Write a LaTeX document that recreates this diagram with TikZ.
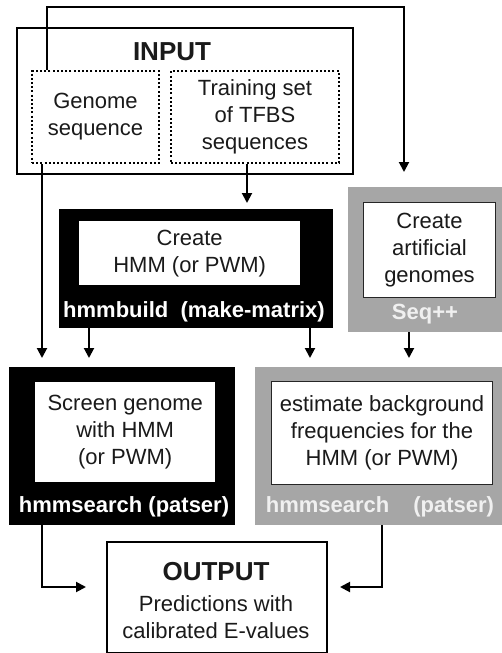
\documentclass[tikz,border=0pt]{standalone}
\usepackage{fontspec}
\setmainfont{Liberation Sans}
\usetikzlibrary{arrows.meta}
\definecolor{boxgray}{HTML}{A6A6A6}
\definecolor{txt}{HTML}{1A1A1A}
\tikzset{
  box/.style={rectangle, inner sep=0pt, anchor=north west, align=center, text=txt,
              font=\fontsize{22}{27}\selectfont},
  outerbox/.style={box, draw=black, line width=2pt},
  dotbox/.style={box, draw=black, line width=2pt, dash pattern=on 2pt off 2.2pt},
  blackbox/.style={box, fill=black},
  graybox/.style={box, fill=boxgray},
  whitebox/.style={box, fill=white},
  whiteboxb/.style={box, fill=white, draw=black!85, line width=1pt},
  heading/.style={font=\fontsize{26}{31}\selectfont\bfseries, text=txt, inner sep=0pt},
  body/.style={font=\fontsize{22}{27}\selectfont, text=txt, inner sep=0pt, align=center},
  tool/.style={font=\fontsize{22}{27}\selectfont\bfseries, text=white, inner sep=0pt},
  toolg/.style={font=\fontsize{22}{27}\selectfont\bfseries, text=white!94!black, inner sep=0pt},
  arr/.style={line width=2pt, -{Triangle[width=10pt,length=10pt]}},
}
\begin{document}
\begin{tikzpicture}[x=1pt,y=-1pt]
\useasboundingbox[fill=white] (0,0) rectangle (502,653);

% INPUT
\node[outerbox, minimum width=336pt, minimum height=146pt] (input) at (16,27) {};
\node[heading] (inputlbl) at (172,52) {INPUT};
\node[dotbox, minimum width=127pt, minimum height=92pt] (genome) at (31,70) {Genome\\sequence};
\node[dotbox, minimum width=168pt, minimum height=92pt] (training) at (170,70) {Training set\\of TFBS\\sequences};

% hmmbuild
\node[blackbox, minimum width=274pt, minimum height=119pt] (build) at (59,209) {};
\node[whitebox, minimum width=221pt, minimum height=64pt] (buildin) at (79,221) {Create\\HMM (or PWM)};
\node[tool] (buildlbl) at (194,312) {hmmbuild\ \ (make-matrix)};

% Seq++
\node[graybox, minimum width=154pt, minimum height=145pt] (seq) at (348,187) {};
\node[whiteboxb, minimum width=132pt, minimum height=95pt] (seqin) at (363,202) {Create\\artificial\\genomes};
\node[toolg] (seqlbl) at (425,314) {Seq++};

% screen
\node[blackbox, minimum width=226pt, minimum height=158pt] (screen) at (9,367) {};
\node[whitebox, minimum width=180pt, minimum height=100pt] (screenin) at (35,382) {Screen genome\\with HMM\\(or PWM)};
\node[tool] (screenlbl) at (124,507) {hmmsearch (patser)};

% estimate
\node[graybox, minimum width=247pt, minimum height=158pt] (est) at (255,367) {};
\node[whiteboxb, minimum width=221pt, minimum height=103pt] (estin) at (271,381) {estimate background\\frequencies for the\\HMM (or PWM)};
\node[toolg] (estlbl) at (380,507) {hmmsearch\hspace{24pt}(patser)};

% OUTPUT
\node[outerbox, minimum width=220pt, minimum height=111pt] (output) at (106,541) {};
\node[heading] (outlbl) at (216,572) {OUTPUT};
\node[body] (outtxt) at (216,617) {Predictions with\\calibrated E-values};

% connector coordinates
\coordinate (topR) at (404,7);
\coordinate (seqIn) at (404,172);
\coordinate (scrIn1) at (42,358);
\coordinate (scrIn2) at (89,358);
\coordinate (estIn1) at (310,358);
\coordinate (estIn2) at (409,358);
\coordinate (buildIn) at (247,203);
\coordinate (outL) at (86,587);
\coordinate (outR) at (340,587);

% connectors
\draw[arr] ([xshift=16pt]genome.north west) |- (topR) -- (seqIn);
\draw[arr] ([xshift=11pt]genome.south west) -- (scrIn1);
\draw[arr] (training.south -| buildIn) -- (buildIn);
\draw[arr] (build.south -| scrIn2) -- (scrIn2);
\draw[arr] (build.south -| estIn1) -- (estIn1);
\draw[arr] (seq.south -| estIn2) -- (estIn2);
\draw[arr] (screen.south -| scrIn1) |- (outL);
\draw[arr] (est.south -| 382,0) |- (outR);
\end{tikzpicture}
\end{document}
